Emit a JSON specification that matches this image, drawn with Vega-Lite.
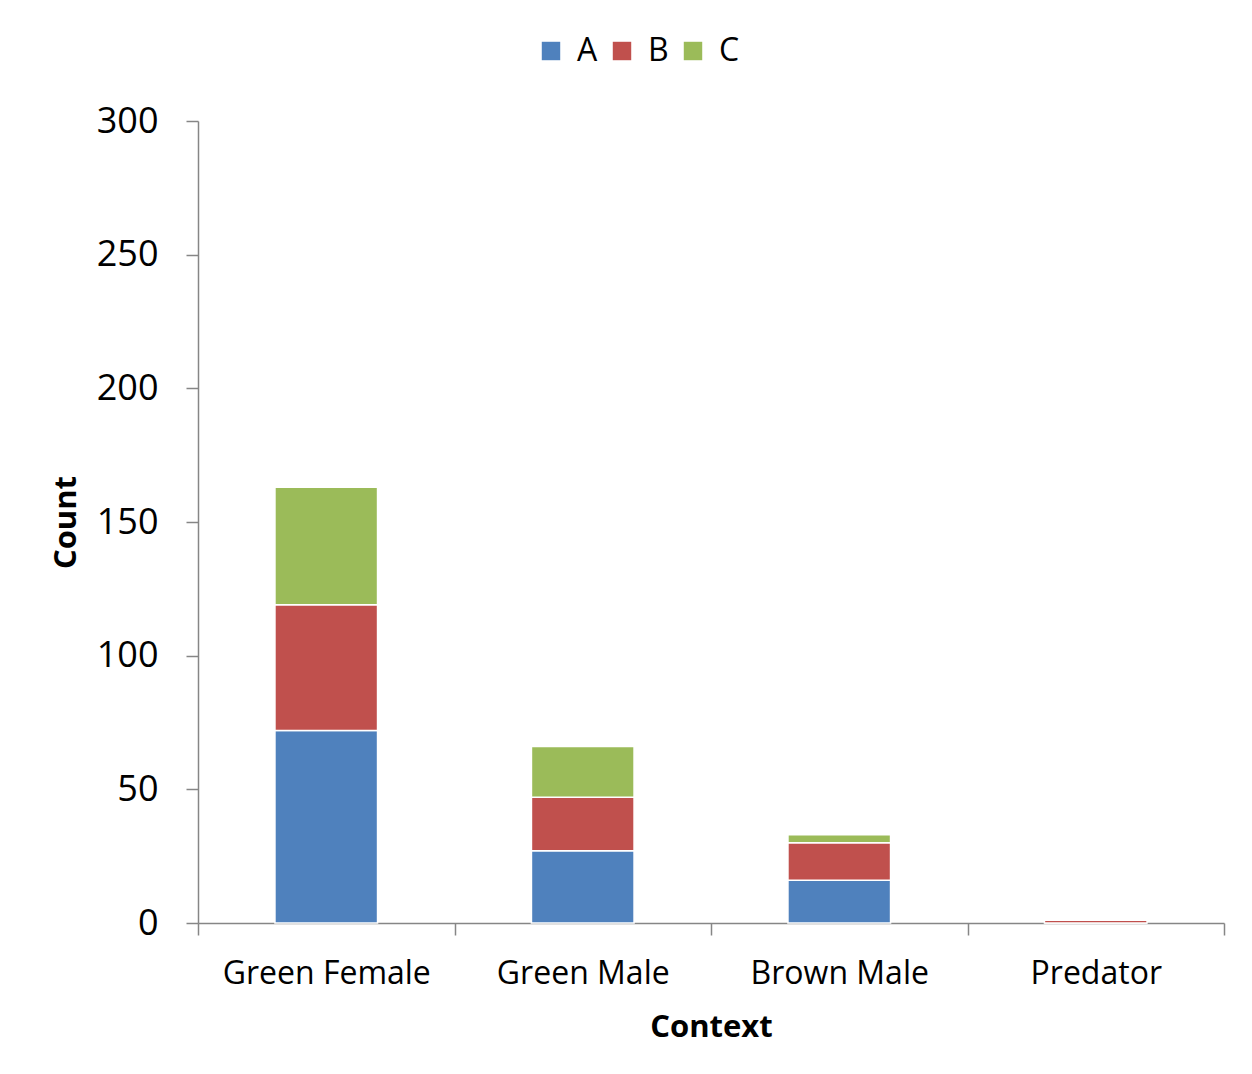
{
  "$schema": "https://vega.github.io/schema/vega-lite/v6.json",
  "autosize": {"type": "none"},
  "width": 1026,
  "height": 802,
  "padding": {"left": 198, "top": 121, "right": 28, "bottom": 151},
  "background": "white",
  "config": {
    "view": {"stroke": null},
    "font": "Open Sans",
    "axis": {"labelFont": "Open Sans", "titleFont": "Open Sans", "labelColor": "black", "titleColor": "black", "labelLimit": 400},
    "legend": {"labelFont": "Open Sans"}
  },
  "data": {
    "values": [
      {"Context": "Green Female", "Type": "A", "Count": 72},
      {"Context": "Green Female", "Type": "B", "Count": 47},
      {"Context": "Green Female", "Type": "C", "Count": 44},
      {"Context": "Green Male", "Type": "A", "Count": 27},
      {"Context": "Green Male", "Type": "B", "Count": 20},
      {"Context": "Green Male", "Type": "C", "Count": 19},
      {"Context": "Brown Male", "Type": "A", "Count": 16},
      {"Context": "Brown Male", "Type": "B", "Count": 14},
      {"Context": "Brown Male", "Type": "C", "Count": 3},
      {"Context": "Predator", "Type": "A", "Count": 0},
      {"Context": "Predator", "Type": "B", "Count": 1},
      {"Context": "Predator", "Type": "C", "Count": 0}
    ]
  },
  "mark": {"type": "bar", "stroke": "white", "strokeWidth": 1.5, "width": {"band": 0.4}},
  "encoding": {
    "x": {
      "field": "Context",
      "type": "nominal",
      "sort": ["Green Female", "Green Male", "Brown Male", "Predator"],
      "scale": {"paddingInner": 0, "paddingOuter": 0},
      "axis": {
        "title": "Context",
        "titleFontSize": 31,
        "titleFontWeight": "bold",
        "titlePadding": 23,
        "labelFontSize": 32,
        "labelAngle": 0,
        "labelPadding": 23,
        "tickBand": "extent",
        "tickSize": 12,
        "tickColor": "#868686",
        "domainColor": "#868686",
        "domainWidth": 1.5,
        "tickWidth": 1.5
      }
    },
    "y": {
      "field": "Count",
      "type": "quantitative",
      "aggregate": "sum",
      "stack": "zero",
      "scale": {"domain": [0, 300], "nice": false},
      "axis": {
        "title": "Count",
        "titleFontSize": 31,
        "titleFontWeight": "bold",
        "titlePadding": 14,
        "values": [0, 50, 100, 150, 200, 250, 300],
        "labelFontSize": 36,
        "labelPadding": 28,
        "tickSize": 12,
        "grid": false,
        "tickColor": "#868686",
        "domainColor": "#868686",
        "domainWidth": 1.5,
        "tickWidth": 1.5
      }
    },
    "color": {
      "field": "Type",
      "type": "nominal",
      "scale": {"domain": ["A", "B", "C"], "range": ["#4F81BD", "#C0504D", "#9BBB59"]},
      "legend": {
        "title": null,
        "orient": "none",
        "direction": "horizontal",
        "legendX": 337,
        "legendY": -86,
        "symbolType": "square",
        "symbolSize": 340,
        "symbolStrokeWidth": 0,
        "labelFontSize": 32,
        "labelColor": "black",
        "columnPadding": 8,
        "labelOffset": 10
      }
    },
    "order": {"field": "Type", "sort": "ascending"}
  }
}
